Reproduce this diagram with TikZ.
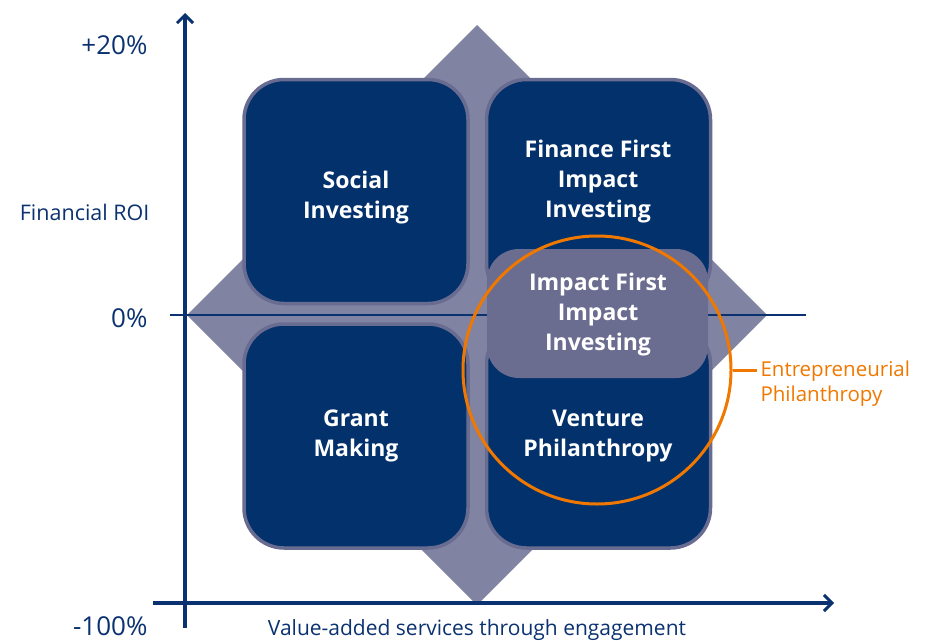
\documentclass[tikz,border=0pt]{standalone}
\usepackage{fontspec}
\setmainfont{Open Sans}
\usetikzlibrary{arrows.meta}
\definecolor{navy}{HTML}{03316B}
\definecolor{axisblue}{HTML}{0B3270}
\definecolor{diam}{HTML}{8083A1}
\definecolor{boxedge}{HTML}{696C91}
\definecolor{impact}{HTML}{6A6D8F}
\definecolor{orng}{HTML}{F07800}
\begin{document}
\begin{tikzpicture}[x=1pt,y=-1pt,
  quad/.style={draw=boxedge,line width=3.5pt,fill=navy,rounded corners=40pt,minimum width=224pt,minimum height=224pt,inner sep=0pt},
  boxtext/.style={text=white,font=\fontsize{23}{30}\selectfont\bfseries,align=center},
  axislbl/.style={text=axisblue,font=\fontsize{26}{30}\selectfont,anchor=east},
  axis/.style={draw=axisblue,line width=3.5pt,-{Straight Barb[length=8pt,width=16pt,line width=3pt]}}]
\useasboundingbox (0,0) rectangle (926,640);
% diamond
\fill[diam] (187,315) -- (477,25) -- (767,315) -- (477,605) -- cycle;
% middle line
\coordinate (ml) at (170,315);
\coordinate (mr) at (806,315);
\draw[axisblue,line width=2pt] (ml) -- (mr);
% quadrant boxes
\node[quad] (si) at (356,191.5) {};
\node[quad] (ff) at (598.5,191.5) {};
\node[quad] (gm) at (356,436) {};
\node[quad] (vp) at (598.5,436) {};
\node[fill=impact,rounded corners=32pt,minimum width=221pt,minimum height=129pt,inner sep=0pt] (if) at (597.5,313.5) {};
% texts
\node[boxtext] (sit) at (356,197.5) {Social\\Investing};
\node[boxtext] (fft) at (598,182) {Finance First\\Impact\\Investing};
\node[boxtext] (ift) at (598,314.5) {Impact First\\Impact\\Investing};
\node[boxtext] (gmt) at (356,436) {Grant\\Making};
\node[boxtext] (vpt) at (598,436) {Venture\\Philanthropy};
% axes
\coordinate (yb) at (185,628);
\coordinate (yt) at (185,13);
\coordinate (xl) at (153,603);
\coordinate (xr) at (834,603);
\draw[axis] (yb) -- (yt);
\draw[axis] (xl) -- (xr);
% axis labels
\node[axislbl] (p20) at (151,45) {+20\%};
\node[axislbl] (p0) at (151,318) {0\%};
\node[axislbl] (m100) at (151,626) {-100\%};
\node[text=axisblue,font=\fontsize{21.5}{24}\selectfont,anchor=east] (roi) at (153,212) {Financial ROI};
\node[text=axisblue,font=\fontsize{21}{24}\selectfont] (val) at (477,630) {Value-added services through engagement};
% orange circle
\node[draw=orng,line width=3pt,circle,minimum size=268pt,inner sep=0pt] (circ) at (597,370) {};
\node[text=orng,font=\fontsize{20.5}{25}\selectfont,align=left,anchor=west] (ep) at (757,383.5) {Entrepreneurial\\Philanthropy};
\draw[orng,line width=3pt] (circ.east) -- (circ.east -| ep.west);
\end{tikzpicture}
\end{document}
